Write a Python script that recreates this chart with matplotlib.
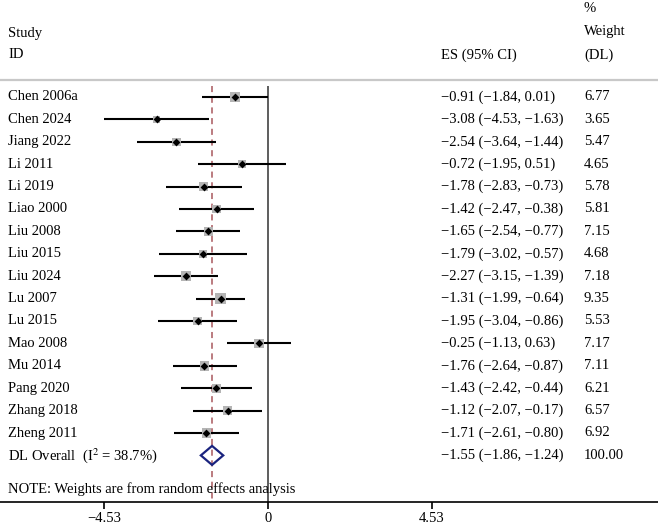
import matplotlib.pyplot as plt
from matplotlib.patches import Polygon
import numpy as np

plt.rcParams['font.family'] = ['Liberation Serif', 'DejaVu Serif']
plt.rcParams['mathtext.fontset'] = 'stix'

studies = ['Chen 2006a', 'Chen 2024', 'Jiang 2022', 'Li 2011', 'Li 2019', 'Liao 2000',
           'Liu 2008', 'Liu 2015', 'Liu 2024', 'Lu 2007', 'Lu 2015', 'Mao 2008',
           'Mu 2014', 'Pang 2020', 'Zhang 2018', 'Zheng 2011']
es = [-0.91, -3.08, -2.54, -0.72, -1.78, -1.42, -1.65, -1.79, -2.27, -1.31, -1.95,
      -0.25, -1.76, -1.43, -1.12, -1.71]
lo = [-1.84, -4.53, -3.64, -1.95, -2.83, -2.47, -2.54, -3.02, -3.15, -1.99, -3.04,
      -1.13, -2.64, -2.42, -2.07, -2.61]
hi = [0.01, -1.63, -1.44, 0.51, -0.73, -0.38, -0.77, -0.57, -1.39, -0.64, -0.86,
      0.63, -0.87, -0.44, -0.17, -0.80]
weights = [6.77, 3.65, 5.47, 4.65, 5.78, 5.81, 7.15, 4.68, 7.18, 9.35, 5.53, 7.17,
           7.11, 6.21, 6.57, 6.92]
overall = (-1.55, -1.86, -1.24)
i2 = 38.7
xticks = [-4.53, 0, 4.53]


def fmt(v):
    return f'{v:.2f}'.replace('-', '\u2212')


W, H = 658, 525
fig = plt.figure(figsize=(W / 100, H / 100), dpi=100)
# axes covers the figure; bottom spine sits at y = 502 px
ax = fig.add_axes([0, 23 / H, 1, 1 - 23 / H])
px = 36.1  # pixels per unit on the effect scale
x0 = 268
ax.set_xlim(-x0 / px, (W - x0) / px)
ax.set_ylim(502, 0)  # y in pixels from the top


def tx(p):
    # pixel column -> data x
    return (p - x0) / px


fs = 10.5
row0, step = 97, 22.4
ys = row0 + step * np.arange(len(studies))
y_ov = row0 + step * len(studies)

# header
ax.text(tx(8), 33, 'Study', fontsize=fs, va='center')
ax.text(tx(8), 55, 'ID', fontsize=fs, va='center')
ax.text(tx(441), 55, 'ES (95% CI)', fontsize=fs, va='center')
ax.text(tx(584), 9, '%', fontsize=fs, va='center')
ax.text(tx(584), 32, 'Weight', fontsize=fs, va='center')
ax.text(tx(584), 55, '(DL)', fontsize=fs, va='center')
ax.axhline(80, color='#c8c8c8', lw=1.6)

# reference lines
ax.vlines(0, 86, 502, color='#505050', lw=1.3)
ax.vlines(overall[0], 86, 502, color='#a8575c', lw=1.1, linestyles=(0, (4, 3)))

# studies
ax.hlines(ys, lo, hi, color='black', lw=1.5)
ax.scatter(es, ys, s=np.array(weights) * 6.7, marker='s', color='#b4b4b4',
           linewidths=0, zorder=3)
ax.scatter(es, ys, s=16, marker='D', color='black', linewidths=0, zorder=4)
for y, name, e, l, h, w in zip(ys, studies, es, lo, hi, weights):
    ax.text(tx(8), y, name, fontsize=fs, va='center')
    ax.text(tx(441), y, f'{fmt(e)} ({fmt(l)}, {fmt(h)})', fontsize=fs, va='center')
    ax.text(tx(584), y, f'{w:.2f}', fontsize=fs, va='center')

# overall diamond
e, l, h = overall
dh = 9.5
ax.add_patch(Polygon([(l, y_ov), (e, y_ov - dh), (h, y_ov), (e, y_ov + dh)],
                     closed=True, fill=False, edgecolor='#1a237e', lw=1.6, zorder=4))
ax.text(tx(8), y_ov, f'DL Overall  (I$^2$ = {i2}%)', fontsize=fs, va='center')
ax.text(tx(441), y_ov, f'{fmt(e)} ({fmt(l)}, {fmt(h)})', fontsize=fs, va='center')
ax.text(tx(584), y_ov, '100.00', fontsize=fs, va='center')

ax.text(tx(8), 489, 'NOTE: Weights are from random effects analysis', fontsize=fs, va='center')

# axis
for s in ['top', 'right', 'left']:
    ax.spines[s].set_visible(False)
ax.spines['bottom'].set_linewidth(1.2)
ax.set_yticks([])
ax.set_xticks(xticks)
ax.set_xticklabels([fmt(t) if t != 0 else '0' for t in xticks], fontsize=fs)
ax.tick_params(axis='x', length=5, width=1.2, pad=2)

fig.savefig('out.png', dpi=100)
